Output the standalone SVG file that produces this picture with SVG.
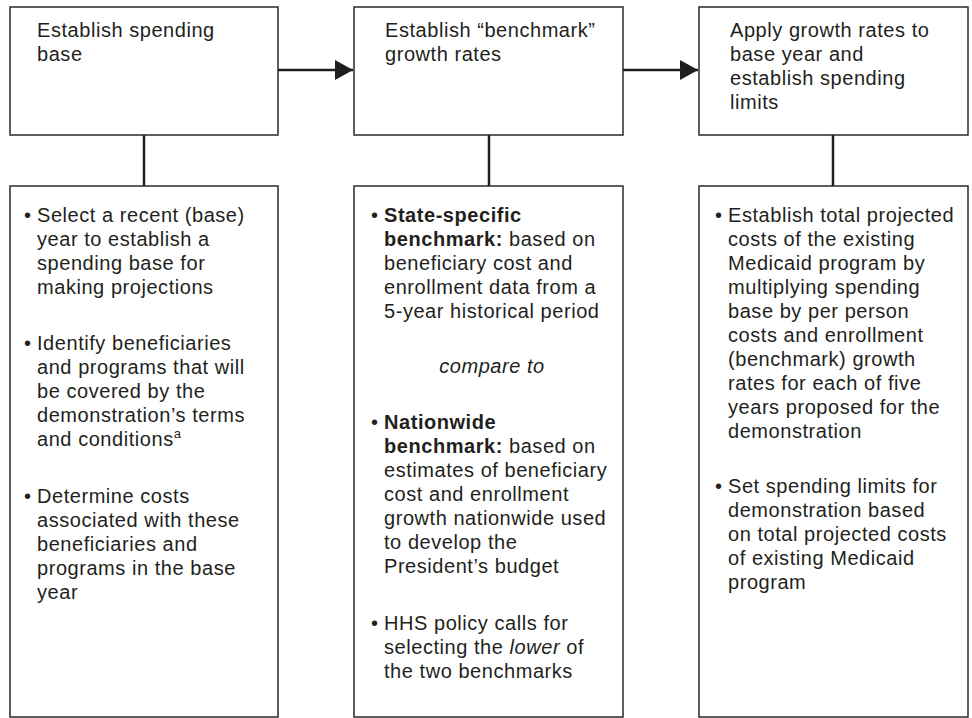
<svg xmlns="http://www.w3.org/2000/svg" width="972" height="718" viewBox="0 0 972 718">
<defs>
<style>
.box{fill:#fff;stroke:#2a2a2a;stroke-width:1.5}
.t{font-family:"Liberation Sans",Arial,Helvetica,sans-serif;font-size:20px;fill:#231f20;letter-spacing:0.55px}
.b{font-weight:bold}
.i{font-style:italic}
.c{stroke:#1e1e1e;stroke-width:2.5;fill:none}
</style>
<marker id="ah" viewBox="0 0 9 10" refX="9" refY="5" markerWidth="7.4" markerHeight="8.2" markerUnits="strokeWidth" orient="auto">
<path d="M0,0 L9,5 L0,10 Z" fill="#1e1e1e"/>
</marker>
</defs>
<rect width="972" height="718" fill="#fff"/>

<g id="connectors">
<line class="c" x1="278" y1="70" x2="353" y2="70" marker-end="url(#ah)"/>
<line class="c" x1="623" y1="70" x2="698" y2="70" marker-end="url(#ah)"/>
<line class="c" x1="144" y1="135" x2="144" y2="186"/>
<line class="c" x1="489" y1="135" x2="489" y2="186"/>
<line class="c" x1="833" y1="135" x2="833" y2="186"/>
</g>

<g id="step1">
<rect class="box" x="10" y="7" width="268" height="128"/>
<text class="t" x="37" y="37">Establish spending</text>
<text class="t" x="37" y="61">base</text>
</g>

<g id="step2">
<rect class="box" x="354" y="7" width="269" height="128"/>
<text class="t" x="385" y="37">Establish “benchmark”</text>
<text class="t" x="385" y="61">growth rates</text>
</g>

<g id="step3">
<rect class="box" x="699" y="7" width="269" height="128"/>
<text class="t" x="730" y="37">Apply growth rates to</text>
<text class="t" x="730" y="61">base year and</text>
<text class="t" x="730" y="85">establish spending</text>
<text class="t" x="730" y="109">limits</text>
</g>

<g id="detail1">
<rect class="box" x="10" y="186" width="268" height="531"/>
<text class="t" x="24" y="222">•</text>
<text class="t" x="37" y="222">Select a recent (base)</text>
<text class="t" x="37" y="246">year to establish a</text>
<text class="t" x="37" y="270">spending base for</text>
<text class="t" x="37" y="294">making projections</text>
<text class="t" x="24" y="350">•</text>
<text class="t" x="37" y="350">Identify beneficiaries</text>
<text class="t" x="37" y="374">and programs that will</text>
<text class="t" x="37" y="398">be covered by the</text>
<text class="t" x="37" y="422">demonstration’s terms</text>
<text class="t" x="37" y="446">and conditions<tspan font-size="13" dy="-8">a</tspan></text>
<text class="t" x="24" y="503">•</text>
<text class="t" x="37" y="503">Determine costs</text>
<text class="t" x="37" y="527">associated with these</text>
<text class="t" x="37" y="551">beneficiaries and</text>
<text class="t" x="37" y="575">programs in the base</text>
<text class="t" x="37" y="599">year</text>
</g>

<g id="detail2">
<rect class="box" x="354" y="186" width="269" height="531"/>
<text class="t" x="371" y="222">•</text>
<text class="t b" x="384" y="222">State-specific</text>
<text class="t" x="384" y="246"><tspan class="b">benchmark:</tspan> based on</text>
<text class="t" x="384" y="270">beneficiary cost and</text>
<text class="t" x="384" y="294">enrollment data from a</text>
<text class="t" x="384" y="318">5-year historical period</text>
<text class="t i" x="492" y="373" text-anchor="middle">compare to</text>
<text class="t" x="371" y="429">•</text>
<text class="t b" x="384" y="429">Nationwide</text>
<text class="t" x="384" y="453"><tspan class="b">benchmark:</tspan> based on</text>
<text class="t" x="384" y="477">estimates of beneficiary</text>
<text class="t" x="384" y="501">cost and enrollment</text>
<text class="t" x="384" y="525">growth nationwide used</text>
<text class="t" x="384" y="549">to develop the</text>
<text class="t" x="384" y="573">President’s budget</text>
<text class="t" x="371" y="630">•</text>
<text class="t" x="384" y="630">HHS policy calls for</text>
<text class="t" x="384" y="654">selecting the <tspan class="i">lower</tspan> of</text>
<text class="t" x="384" y="678">the two benchmarks</text>
</g>

<g id="detail3">
<rect class="box" x="699" y="186" width="269" height="531"/>
<text class="t" x="715" y="222">•</text>
<text class="t" x="728" y="222">Establish total projected</text>
<text class="t" x="728" y="246">costs of the existing</text>
<text class="t" x="728" y="270">Medicaid program by</text>
<text class="t" x="728" y="294">multiplying spending</text>
<text class="t" x="728" y="318">base by per person</text>
<text class="t" x="728" y="342">costs and enrollment</text>
<text class="t" x="728" y="366">(benchmark) growth</text>
<text class="t" x="728" y="390">rates for each of five</text>
<text class="t" x="728" y="414">years proposed for the</text>
<text class="t" x="728" y="438">demonstration</text>
<text class="t" x="715" y="493">•</text>
<text class="t" x="728" y="493">Set spending limits for</text>
<text class="t" x="728" y="517">demonstration based</text>
<text class="t" x="728" y="541">on total projected costs</text>
<text class="t" x="728" y="565">of existing Medicaid</text>
<text class="t" x="728" y="589">program</text>
</g>
</svg>
